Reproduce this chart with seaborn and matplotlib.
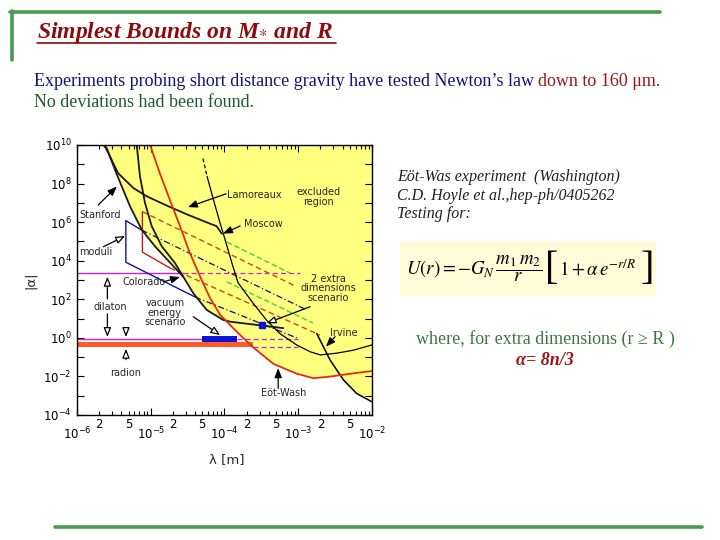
import matplotlib
matplotlib.use('Agg')
import matplotlib.pyplot as plt
import matplotlib.ticker as mticker
from matplotlib.lines import Line2D
from matplotlib.patches import Rectangle
import seaborn as sns
import numpy as np

sns.set_style('ticks')
plt.rcParams['font.family'] = ['DejaVu Sans']
plt.rcParams['mathtext.fontset'] = 'dejavusans'

# ---- bounds on |alpha| vs lambda [m] ----
stanford_lam = [2.25e-6, 2.53e-6, 3.27e-6, 4.04e-6, 5.24e-6, 7.53e-6, 1.14e-5, 2.13e-5, 2.76e-5]
stanford_alpha = [1e10, 6.9e9, 5.2e8, 7.2e7, 6.6e6, 4.1e5, 5.6e4, 4.2e3, 1.48e3]
colorado_lam = [6.46e-6, 7.14e-6, 8.36e-6, 1.03e-5, 1.41e-5, 2.13e-5, 2.76e-5, 3.78e-5, 5.74e-5, 9.6e-5, 1.19e-4, 6.27e-4]
colorado_alpha = [1e10, 2.4e8, 9.8e6, 6.2e5, 5.6e4, 7.6e3, 1.48e3, 204, 28, 8.5, 6.9, 3.2]
lamoreaux_lam = [2.35e-6, 3.6e-6, 5.8e-6, 8.8e-6, 1.74e-5, 3.2e-5, 6.0e-5, 7.8e-5, 9.2e-5]
lamoreaux_alpha = [1e10, 3.5e8, 5.9e7, 2.2e7, 6.6e6, 2.4e6, 9.1e5, 6.2e5, 2.5e5]
eotwash_lam = [9.8e-6, 1.33e-5, 1.82e-5, 2.51e-5, 3.39e-5, 4.68e-5, 6.3e-5, 8.7e-5, 1.48e-4,
               2.45e-4, 4.6e-4, 9.5e-4, 1.6e-3, 2.7e-3, 5.6e-3, 1e-2]
eotwash_alpha = [1e10, 3.4e8, 1.4e7, 5.8e5, 2.5e4, 1.5e3, 126, 16, 2.0,
                 0.32, 0.045, 0.014, 0.0081, 0.0098, 0.0145, 0.019]
moscow_lam = [5.1e-5, 5.8e-5, 7.1e-5, 8.7e-5, 1.02e-4, 1.26e-4, 1.53e-4, 2.45e-4, 3.7e-4,
              5.6e-4, 9.5e-4, 1.45e-3, 2e-3, 3.3e-3, 5.6e-3, 1e-2]
moscow_alpha = [2e9, 2.4e8, 1.4e7, 9.1e5, 1.2e5, 7.6e3, 710, 62, 8.5,
                1.7, 0.43, 0.19, 0.13, 0.16, 0.23, 0.43]
irvine_lam = [1.78e-3, 2.7e-3, 4.1e-3, 6.2e-3, 1e-2]
irvine_alpha = [1.7, 0.071, 0.0066, 0.0013, 4.8e-4]

# ---- theory scenarios ----
red_box_lam = [7.7e-6, 7.7e-6, 1.82e-5]
red_box_alpha = [3.5e6, 2.8e4, 4.2e3]
orange1_lam, orange1_alpha = [7.7e-6, 9.5e-4], [3.5e6, 450]
orange2_lam, orange2_alpha = [1.82e-5, 1.97e-3], [4.2e3, 1.4]
moduli_lam = [7.5e-6, 4.6e-6, 4.6e-6, 3.98e-5]
moduli_alpha = [3.9e5, 1.2e6, 8.3e3, 132]
navy1_lam, navy1_alpha = [7.5e-6, 1.3e-3], [3.9e5, 28]
navy2_lam, navy2_alpha = [3.98e-5, 9.6e-4], [132, 0.99]
green1_lam, green1_alpha = [1.08e-4, 7.7e-4], [9.3e4, 2.3e3]
green2_lam, green2_alpha = [1.07e-4, 1.58e-3], [810, 5.9]

dilaton_hi = 2.3e3
dilaton_lo = 0.85
dilaton_solid_end = [2.76e-5, 5e-5]
dilaton_dash = [[2.76e-5, 1.06e-3], [1.48e-4, 1e-3]]
radion_band = [0.32, 0.63]
radion_end = 2.45e-4
radion_dash = [2.45e-4, 1e-3]
vacuum_lam = [5e-5, 1.5e-4]
vacuum_alpha = [0.63, 1.26]
point_lam, point_alpha = [3.2e-4], [4.7]

fig = plt.figure(figsize=(7.2, 5.4), dpi=100)
fig.patch.set_facecolor('white')
ax = fig.add_axes([77/720, 1-415/540, 295/720, 270/540])
ax.set_xscale('log')
ax.set_yscale('log')

# excluded region = lower envelope of the experimental curves
gx = np.linspace(-6, -2, 800)
env = np.full_like(gx, 10.0)
for lam, alp in [(stanford_lam, stanford_alpha), (colorado_lam, colorado_alpha),
                 (eotwash_lam, eotwash_alpha), (irvine_lam, irvine_alpha)]:
    yi = np.interp(gx, np.log10(lam), np.log10(alp), left=np.inf, right=np.inf)
    env = np.minimum(env, yi)
ax.fill_between(10**gx, 10**env, 1e10, color='#ffff80', lw=0, zorder=0)

# orange radion band, vacuum energy bar
ax.fill_between([1e-6, radion_end], radion_band[0], radion_band[1], color='#ff5a2a', lw=0, zorder=1)
ax.fill_between(vacuum_lam, vacuum_alpha[0], vacuum_alpha[1], color='#0a14d2', lw=0, zorder=4)

mag = '#d21ed2'
ax.plot([1e-6, dilaton_solid_end[0]], [dilaton_hi]*2, color=mag, lw=1.0)
ax.plot(dilaton_dash[0], [dilaton_hi]*2, color=mag, lw=0.9, ls=(0, (4, 2.5)))
ax.plot([1e-6, dilaton_solid_end[1]], [dilaton_lo]*2, color=mag, lw=1.0)
ax.plot(dilaton_dash[1], [dilaton_lo]*2, color=mag, lw=0.9, ls=(0, (4, 2.5)))
ax.plot(radion_dash, [radion_band[0]]*2, color=mag, lw=0.9, ls=(0, (4, 2.5)))

# scenario lines
sns.lineplot(x=red_box_lam, y=red_box_alpha, ax=ax, sort=False, estimator=None, color='#d01818', lw=1.0)
sns.lineplot(x=orange1_lam, y=orange1_alpha, ax=ax, sort=False, estimator=None, color='#c84a10', lw=1.0, linestyle=(0, (4, 2.5)))
sns.lineplot(x=orange2_lam, y=orange2_alpha, ax=ax, sort=False, estimator=None, color='#c84a10', lw=1.0, linestyle=(0, (4, 2.5)))
sns.lineplot(x=moduli_lam, y=moduli_alpha, ax=ax, sort=False, estimator=None, color='#1010a0', lw=1.0)
sns.lineplot(x=navy1_lam, y=navy1_alpha, ax=ax, sort=False, estimator=None, color='#101070', lw=0.9, linestyle=(0, (5, 2, 1, 2)))
sns.lineplot(x=navy2_lam, y=navy2_alpha, ax=ax, sort=False, estimator=None, color='#101070', lw=0.9, linestyle=(0, (5, 2, 1, 2)))
sns.lineplot(x=green1_lam, y=green1_alpha, ax=ax, sort=False, estimator=None, color='#48d040', lw=1.0, linestyle=(0, (4, 2)))
sns.lineplot(x=green2_lam, y=green2_alpha, ax=ax, sort=False, estimator=None, color='#48d040', lw=1.0, linestyle=(0, (4, 2)))

# experiments
sns.lineplot(x=stanford_lam, y=stanford_alpha, ax=ax, sort=False, estimator=None, color='#1a1a1a', lw=1.3)
sns.lineplot(x=colorado_lam, y=colorado_alpha, ax=ax, sort=False, estimator=None, color='#1a1a1a', lw=1.3)
sns.lineplot(x=lamoreaux_lam, y=lamoreaux_alpha, ax=ax, sort=False, estimator=None, color='#1a1a1a', lw=1.3)
sns.lineplot(x=moscow_lam[:2], y=moscow_alpha[:2], ax=ax, sort=False, estimator=None, color='k', lw=0.9, linestyle=(0, (3, 2)))
sns.lineplot(x=moscow_lam[1:], y=moscow_alpha[1:], ax=ax, sort=False, estimator=None, color='k', lw=0.9)
sns.lineplot(x=irvine_lam, y=irvine_alpha, ax=ax, sort=False, estimator=None, color='k', lw=1.1)
sns.lineplot(x=eotwash_lam, y=eotwash_alpha, ax=ax, sort=False, estimator=None, color='#e52a10', lw=1.3)
ax.plot(point_lam, point_alpha, 's', color='#0a14d2', ms=4, zorder=5)

ax.set_xlim(1e-6, 1e-2)
ax.set_ylim(1e-4, 1e10)

# ticks
ax.xaxis.set_major_locator(mticker.LogLocator(base=10, numticks=10))
ax.xaxis.set_major_formatter(mticker.LogFormatterSciNotation())
ax.xaxis.set_minor_locator(mticker.LogLocator(base=10, subs=np.arange(2, 10), numticks=10))

def minor_fmt(v, pos):
    m = int(round(v / 10**np.floor(np.log10(v) + 1e-9)))
    return str(m) if m in (2, 5) else ''

ax.xaxis.set_minor_formatter(mticker.FuncFormatter(minor_fmt))
ax.yaxis.set_major_locator(mticker.FixedLocator(10.0**np.arange(-4, 11)))

def y_fmt(v, pos):
    e = int(round(np.log10(v)))
    return r'$10^{%d}$' % e if e % 2 == 0 else ''

ax.yaxis.set_major_formatter(mticker.FuncFormatter(y_fmt))
ax.yaxis.set_minor_locator(mticker.NullLocator())
ax.tick_params(which='both', direction='in', top=True, right=True, labelsize=8.5, width=0.8, colors='k')
ax.tick_params(axis='x', which='major', length=5, pad=8)
ax.tick_params(axis='x', which='minor', length=3, pad=2)
ax.tick_params(axis='y', which='major', length=5, pad=4)
for s in ax.spines.values():
    s.set_linewidth(1.0)
    s.set_color('k')

ax.set_xlabel('λ [m]', fontsize=9.5)
ax.set_ylabel('|α|', fontsize=9.5)
ax.xaxis.set_label_coords(0.507, -0.14)
ax.yaxis.set_label_coords(-0.135, 0.5)

# labels inside the plot
fs = 7
def lab(t, x, y, ha='left'):
    ax.text(x, y, t, transform=ax.transAxes, fontsize=fs, ha=ha, va='center', linespacing=0.95, zorder=6)

lab('Lamoreaux', 0.508, 0.815)
lab('excluded\nregion', 0.818, 0.808, 'center')
lab('Stanford', 0.007, 0.741)
lab('Moscow', 0.566, 0.707)
lab('moduli', 0.007, 0.605)
lab('Colorado', 0.153, 0.494)
lab('2 extra\ndimensions\nscenario', 0.852, 0.469, 'center')
lab('vacuum\nenergy\nscenario', 0.298, 0.379, 'center')
lab('dilaton', 0.112, 0.401, 'center')
lab('radion', 0.166, 0.154, 'center')
lab('Irvine', 0.903, 0.303, 'center')
lab('Eöt-Wash', 0.699, 0.080, 'center')

def arrow(tail, tip, hollow=False):
    ax.annotate('', xy=tip, xytext=tail, xycoords='axes fraction', textcoords='axes fraction',
                arrowprops=dict(arrowstyle='-|>,head_length=0.55,head_width=0.22',
                                facecolor='white' if hollow else 'black', edgecolor='black',
                                lw=0.9, shrinkA=0, shrinkB=0), zorder=7)

arrow((0.072, 0.778), (0.135, 0.846))
arrow((0.505, 0.819), (0.376, 0.770))
arrow((0.553, 0.700), (0.495, 0.672))
arrow((0.089, 0.623), (0.163, 0.663), hollow=True)
arrow((0.293, 0.493), (0.349, 0.511))
arrow((0.790, 0.401), (0.643, 0.340), hollow=True)
arrow((0.394, 0.364), (0.485, 0.296), hollow=True)
arrow((0.103, 0.430), (0.103, 0.512), hollow=True)
arrow((0.103, 0.375), (0.103, 0.289), hollow=True)
arrow((0.166, 0.205), (0.166, 0.245), hollow=True)
arrow((0.166, 0.318), (0.166, 0.289), hollow=True)
arrow((0.875, 0.290), (0.844, 0.253))
arrow((0.682, 0.099), (0.682, 0.173))

# ---- slide decoration ----
def fx(px):
    return px / 720

def fy(py):
    return 1 - py / 540

green = '#4a9a52'
fig.add_artist(Line2D([fx(10), fx(660)], [fy(12), fy(12)], color=green, lw=2.6))
fig.add_artist(Line2D([fx(12), fx(12)], [fy(11), fy(60)], color=green, lw=2.6))
fig.add_artist(Line2D([fx(55), fx(702)], [fy(527), fy(527)], color=green, lw=2.6))

fig.text(fx(37), fy(38), r'Simplest Bounds on M$_{*}$ and R', fontsize=17, fontweight='bold',
         style='italic', family='Liberation Serif', color='#8b0c0c', va='baseline',
         math_fontfamily='stix')
fig.add_artist(Line2D([fx(37), fx(336)], [fy(43), fy(43)], color='#8b0c0c', lw=1.2))

renderer = fig.canvas.get_renderer()
t1 = fig.text(fx(34), fy(86), 'Experiments probing short distance gravity have tested Newton’s law ',
              fontsize=13, family='Liberation Serif', color='#12127a', va='baseline')
bb = t1.get_window_extent(renderer=renderer)
fig.text(bb.x1 / fig.bbox.width, fy(86), 'down to 160 μm.', fontsize=13, family='Liberation Serif',
         color='#a01414', va='baseline')
fig.text(fx(34), fy(107), 'No deviations had been found.', fontsize=13, family='Liberation Serif',
         color='#1e5a34', va='baseline')

for i, line in enumerate(['Eöt-Was experiment  (Washington)', 'C.D. Hoyle et al.,hep-ph/0405262', 'Testing for:']):
    fig.text(fx(397), fy(181 + 18.5 * i), line, fontsize=11.5, family='Liberation Serif', style='italic',
             color='#202020', va='baseline')

# formula, built from pieces so the brackets can be tall
fig.add_artist(Rectangle((fx(400), fy(296)), 256 / 720, 55 / 540, transform=fig.transFigure,
                         facecolor='#fdfbd8', edgecolor='none'))
pieces = [(r'$U(r) = -G_N\,\dfrac{m_1\,m_2}{r}$', 13.5, 'math', 3),
          ('[', 29, 'br', 0),
          (r'$1+\alpha\,e^{-r/R}$', 13.5, 'math', 5),
          (']', 29, 'br', 0)]
x_px = 406
for txt, size, kind, gap in pieces:
    if kind == 'math':
        t = fig.text(fx(x_px), fy(275), txt, fontsize=size, math_fontfamily='stix',
                     va='baseline', ha='left', color='k')
    else:
        t = fig.text(fx(x_px), fy(270), txt, fontsize=size, family='Liberation Serif',
                     fontweight='light', va='center', ha='left', color='k')
    x_px = t.get_window_extent(renderer=renderer).x1 + gap

fig.text(fx(545), fy(344), 'where, for extra dimensions (r ≥ R )', fontsize=13, family='Liberation Serif',
         color='#3c7a3c', ha='center', va='baseline')
fig.text(fx(545), fy(365), 'α= 8n/3', fontsize=13, family='Liberation Serif', fontweight='bold',
         style='italic', color='#a01414', ha='center', va='baseline')

fig.savefig('out.png', dpi=100, facecolor='white')
